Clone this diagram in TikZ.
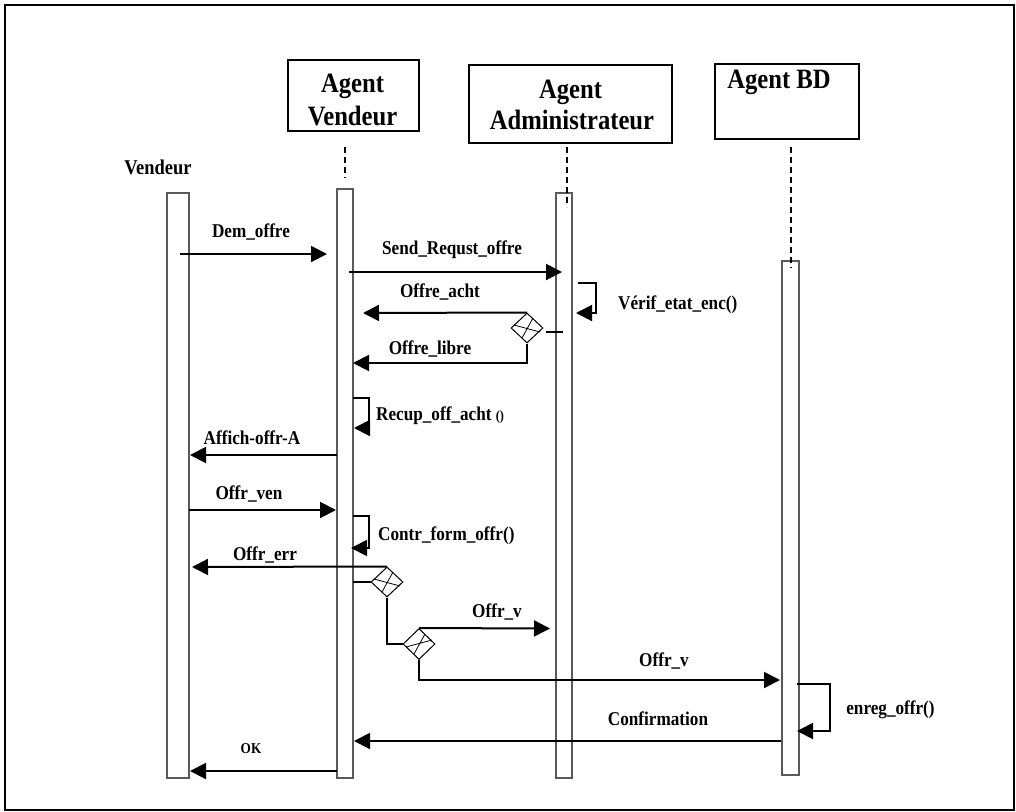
\documentclass[tikz,border=0pt]{standalone}
\usepackage{fontspec}
\setmainfont{Liberation Serif}[FakeStretch=0.88]
\usetikzlibrary{arrows.meta,shapes.geometric}
\begin{document}
\begin{tikzpicture}[x=1pt,y=-1pt,
  msg/.style={line width=2pt,-{Triangle[length=16pt,width=16pt]}},
  ln/.style={line width=2pt},
  bar/.style={draw=black!65,line width=1.2pt,fill=white,inner sep=0pt},
  hdr/.style={draw,line width=1.4pt,inner sep=0pt},
  life/.style={line width=1.8pt,dash pattern=on 6pt off 4pt},
  lbl/.style={font=\bfseries\fontsize{19.5}{22}\selectfont,inner sep=0pt,anchor=base},
  htxt/.style={font=\bfseries\fontsize{28}{32}\selectfont,inner sep=0pt,anchor=base},
  gate/.style={diamond,draw,line width=1pt,minimum width=32pt,minimum height=30pt,inner sep=0pt,fill=white},
  cross/.style={line width=0.8pt}
]
\useasboundingbox (0,0) rectangle (1016,811);
\draw[line width=2.5pt] (5,5) rectangle (1014,810);

% header boxes
\node[hdr,minimum width=131pt,minimum height=71pt] (hav) at (353.5,95.5) {};
\node[htxt] (tav1) at (352.5,92) {Agent};
\node[htxt] (tav2) at (352.5,125) {Vendeur};
\node[hdr,minimum width=203pt,minimum height=78pt] (had) at (570.5,104) {};
\node[htxt] (tad1) at (570.5,98.5) {Agent};
\node[htxt] (tad2) at (572,129) {Administrateur};
\node[hdr,minimum width=144pt,minimum height=75pt] (hbd) at (787,101.5) {};
\node[htxt] (tbd) at (779,88.5) {Agent BD};
\node[lbl,font=\bfseries\fontsize{21}{24}\selectfont] (tv) at (158,174) {Vendeur};

% activation bars
\node[bar,minimum width=22pt,minimum height=585pt] (vbar) at (178,485.5) {};
\node[bar,minimum width=16pt,minimum height=589pt] (avbar) at (345,483.5) {};
\node[bar,minimum width=16pt,minimum height=585pt] (adbar) at (564,485.5) {};
\node[bar,minimum width=17pt,minimum height=514pt] (bdbar) at (790.5,518) {};

% lifelines
\coordinate (lav1) at (344.8,147); \coordinate (lav2) at (344.8,178);
\coordinate (lad1) at (567,147); \coordinate (lad2) at (567,207);
\coordinate (lbd1) at (790.7,147); \coordinate (lbd2) at (790.7,268);
\draw[life] (lav1) -- (lav2);
\draw[life] (lad1) -- (lad2);
\draw[life] (lbd1) -- (lbd2);

% Dem_offre
\coordinate (a1) at (180,254); \coordinate (b1) at (327,254);
\draw[msg] (a1) -- (b1);
\node[lbl] (l1) at (251,237) {Dem\_offre};

% Send_Requst_offre
\coordinate (a2) at (349,272); \coordinate (b2) at (562,272);
\draw[msg] (a2) -- (b2);
\node[lbl] (l2) at (452,254) {Send\_Requst\_offre};

% Verif loop
\coordinate (a3) at (578,283); \coordinate (c3) at (596,283); \coordinate (d3) at (596,313); \coordinate (b3) at (576,313);
\draw[msg] (a3) -- (c3) -- (d3) -- (b3);
\node[lbl,anchor=base west] (l3) at (618,309) {Vérif\_etat\_enc()};

% admin gate
\node[gate] (g1) at (527,328) {};
\draw[cross,shift={(g1)}] (-13,-3) -- (13,4) (6,-10) -- (-5,10);
\coordinate (b4) at (363,313);
\draw[msg] (g1.north) -- (b4);
\node[lbl] (l4) at (440,297) {Offre\_acht};
\coordinate (s1) at (546,332); \coordinate (s2) at (563,332);
\draw[ln] (s1) -- (s2);
\coordinate (c5) at (527,363); \coordinate (b5) at (353,363);
\draw[msg] (g1.south) -- (c5) -- (b5);
\node[lbl] (l5) at (430,354) {Offre\_libre};

% Recup loop
\coordinate (a6) at (353,398); \coordinate (c6) at (369,398); \coordinate (d6) at (369,428); \coordinate (b6) at (354,428);
\draw[msg] (a6) -- (c6) -- (d6) -- (b6);
\node[lbl,anchor=base west] (l6) at (376,420) {Recup\_off\_acht {\fontsize{14}{16}\selectfont ()}};

% Affich
\coordinate (a7) at (337,455); \coordinate (b7) at (190,455);
\draw[msg] (a7) -- (b7);
\node[lbl] (l7) at (252,444) {Affich-offr-A};

% Offr_ven
\coordinate (a8) at (189,510); \coordinate (b8) at (336,510);
\draw[msg] (a8) -- (b8);
\node[lbl] (l8) at (249,499) {Offr\_ven};

% Contr loop
\coordinate (a9) at (353,516); \coordinate (c9) at (369,516); \coordinate (d9) at (369,548); \coordinate (b9) at (351,548);
\draw[msg] (a9) -- (c9) -- (d9) -- (b9);
\node[lbl,anchor=base west] (l9) at (378,540) {Contr\_form\_offr()};

% gates agent vendeur
\node[gate] (g2) at (387,582) {};
\draw[cross,shift={(g2)}] (-13,-3) -- (13,4) (6,-10) -- (-5,10);
\node[gate,minimum height=31pt] (g3) at (419,644) {};
\draw[cross,shift={(g3)}] (-13,3) -- (13,-4) (6,-10) -- (-5,10);
\coordinate (a10) at (353,582);
\draw[ln] (a10) -- (g2.west);
\coordinate (b11) at (192,567);
\draw[msg] (g2.north) -- (b11);
\node[lbl] (l11) at (265,560) {Offr\_err};
\coordinate (c12) at (387,644);
\draw[ln] (g2.south) -- (c12) -- (g3.west);
\coordinate (b13) at (550,628.5);
\draw[msg] (g3.north) -- (b13);
\node[lbl] (l13) at (497,617) {Offr\_v};
\coordinate (c14) at (419,680); \coordinate (b14) at (780,680);
\draw[msg] (g3.south) -- (c14) -- (b14);
\node[lbl] (l14) at (664,666) {Offr\_v};

% enreg loop
\coordinate (a15) at (797,684); \coordinate (c15) at (830,684); \coordinate (d15) at (830,731); \coordinate (b15) at (797,731);
\draw[msg] (a15) -- (c15) -- (d15) -- (b15);
\node[lbl] (l15) at (890.5,714) {enreg\_offr()};

% Confirmation
\coordinate (a16) at (781,741); \coordinate (b16) at (354,741);
\draw[msg] (a16) -- (b16);
\node[lbl] (l16) at (658,725) {Confirmation};

% OK
\coordinate (a17) at (337,771); \coordinate (b17) at (190,771);
\draw[msg] (a17) -- (b17);
\node[lbl,font=\bfseries\fontsize{15}{17}\selectfont] (l17) at (251,753) {OK};
\end{tikzpicture}
\end{document}
